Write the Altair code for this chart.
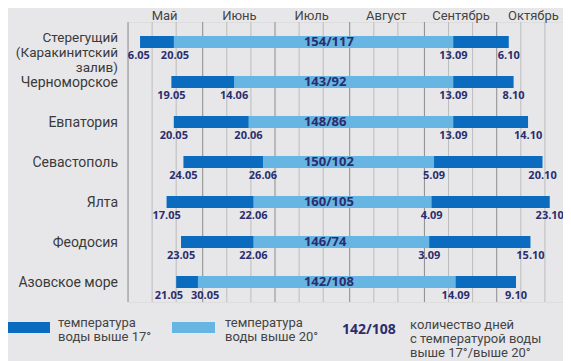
import altair as alt
import pandas as pd

# ---------------- data ----------------
stations = ["Стерегущий\n(Каракинитский\nзалив)", "Черноморское", "Евпатория",
            "Севастополь", "Ялта", "Феодосия", "Азовское море"]
start17 = ["6.05", "19.05", "20.05", "24.05", "17.05", "23.05", "21.05"]
start20 = ["20.05", "14.06", "20.06", "26.06", "22.06", "22.06", "30.05"]
end20 = ["13.09", "13.09", "13.09", "5.09", "4.09", "3.09", "14.09"]
end17 = ["6.10", "8.10", "14.10", "20.10", "23.10", "15.10", "9.10"]
days17 = [154, 143, 148, 150, 160, 146, 142]
days20 = [117, 92, 86, 102, 105, 74, 108]

month_names = ["Май", "Июнь", "Июль", "Август", "Сентябрь", "Октябрь"]
month_mid = ["16.05", "16.06", "16.07", "16.08", "16.09", "16.10"]
grid_months = ["1.05", "1.06", "1.07", "1.08", "1.09", "1.10"]
grid_decades = ["11.05", "21.05", "11.06", "21.06", "11.07", "21.07",
                "11.08", "21.08", "11.09", "21.09", "11.10", "21.10"]
count_anchor = "13.07"
x_domain = ["1.05", "28.10"]


def doy(s):
    d, m = s.split(".")
    return pd.Timestamp(2023, int(m), int(d)).dayofyear


DARK = "#0b6bbf"
LIGHT = "#66b5e3"
NAVY = "#2b2d6e"
TEXT = "#3a3a3a"
BG = "#e7e7e9"
FONT = "Open Sans"
SANS = "Roboto"

df = pd.DataFrame({
    "station": stations,
    "s17": [doy(s) for s in start17],
    "s20": [doy(s) for s in start20],
    "e20": [doy(s) for s in end20],
    "e17": [doy(s) for s in end17],
    "count": [f"{a}/{b}" for a, b in zip(days17, days20)],
})

# date labels (spread apart when two dates are too close)
rows = []
for i, st in enumerate(stations):
    a, b = df.loc[i, "s17"], df.loc[i, "s20"]
    gap = b - a
    shift = (15 - gap) / 2 if gap < 15 else 0
    rows.append({"station": st, "x": a - shift, "lbl": start17[i]})
    rows.append({"station": st, "x": b + shift, "lbl": start20[i]})
    rows.append({"station": st, "x": df.loc[i, "e20"], "lbl": end20[i]})
    rows.append({"station": st, "x": df.loc[i, "e17"], "lbl": end17[i]})
dates_df = pd.DataFrame(rows)

mid_vals = [doy(s) for s in month_mid]
label_expr = ("[" + ",".join(f"'{n}'" for n in month_names) + "][indexof(["
              + ",".join(str(v) for v in mid_vals) + "], datum.value)]")

xscale = alt.Scale(domain=[doy(x_domain[0]), doy(x_domain[1]) + 0.5], nice=False, zero=False)
yscale = alt.Scale(domain=stations, paddingInner=0, paddingOuter=0)
Y = alt.Y("station:N", scale=yscale, axis=None)
month_axis = alt.Axis(orient="top", values=mid_vals, labelExpr=label_expr,
                      ticks=False, domain=False, grid=False, title="",
                      labelFontSize=13, labelColor="#444", labelPadding=7,
                      labelBaseline="middle", labelFont=SANS)

grid_dec = alt.Chart(pd.DataFrame({"x": [doy(s) for s in grid_decades]})).mark_rule(
    color="#bcbcbc", strokeWidth=1).encode(
    x=alt.X("x:Q", scale=xscale, axis=month_axis))
grid_mon = alt.Chart(pd.DataFrame({"x": [doy(s) for s in grid_months]})).mark_rule(
    color="#8c8c8c", strokeWidth=1).encode(
    x=alt.X("x:Q", scale=xscale, axis=month_axis))

dark = alt.Chart(df).mark_bar(size=12, color=DARK).encode(
    x=alt.X("s17:Q", scale=xscale, axis=month_axis), x2="e17:Q", y=Y)
light = alt.Chart(df).mark_bar(size=12, color=LIGHT).encode(
    x=alt.X("s20:Q", scale=xscale, axis=month_axis), x2="e20:Q", y=Y)

counts = alt.Chart(df).mark_text(align="left", baseline="middle", fontSize=13,
                                 fontWeight="bold", color=NAVY, font=FONT).encode(
    x=alt.datum(doy(count_anchor)), y=Y, text="count:N")

dates = alt.Chart(dates_df).mark_text(align="center", baseline="middle", fontSize=11,
                                      fontWeight="bold", color=NAVY, dy=14, font=FONT).encode(
    x=alt.X("x:Q", scale=xscale, axis=month_axis), y=Y, text="lbl:N")

multi = "indexof(datum.station, '\\n') >= 0"
names_single = alt.Chart(df).transform_filter("!(" + multi + ")").mark_text(
    align="right", baseline="middle", fontSize=14, dy=1, color=TEXT, font=SANS).encode(
    x=alt.value(-10), y=Y, text="station:N")
names_multi = alt.Chart(df).transform_filter(multi).mark_text(
    align="right", baseline="top", fontSize=13.5, dy=-11, lineBreak="\n", lineHeight=15,
    color=TEXT, font=SANS).encode(
    x=alt.value(-10), y=Y, text="station:N")

# legend
one = pd.DataFrame({"a": [0]})
sw1 = alt.Chart(one).mark_rect(color=DARK).encode(
    x=alt.value(-120), x2=alt.value(-78), y=alt.value(300), y2=alt.value(311))
sw2 = alt.Chart(one).mark_rect(color=LIGHT).encode(
    x=alt.value(44), x2=alt.value(87), y=alt.value(300), y2=alt.value(311))
leg_style = dict(align="left", baseline="top", fontSize=13, lineBreak="\n",
                 lineHeight=14, color="#444", font=SANS)
t1 = alt.Chart(one).mark_text(**leg_style).encode(
    x=alt.value(-70), y=alt.value(295), text=alt.value("температура\nводы выше 17°"))
t2 = alt.Chart(one).mark_text(**leg_style).encode(
    x=alt.value(97), y=alt.value(295), text=alt.value("температура\nводы выше 20°"))
t3 = alt.Chart(one).mark_text(align="left", baseline="middle", fontSize=14,
                              fontWeight="bold", color=NAVY, font=FONT).encode(
    x=alt.value(214), y=alt.value(308), text=alt.value("142/108"))
t4 = alt.Chart(one).mark_text(**leg_style).encode(
    x=alt.value(282), y=alt.value(297),
    text=alt.value("количество дней\nс температурой воды\nвыше 17°/выше 20°"))

chart = alt.layer(grid_dec, grid_mon, dark, light, counts, dates, names_single, names_multi,
                  sw1, sw2, t1, t2, t3, t4).properties(
    width=435, height=280,
    padding={"left": 120, "top": 14, "right": 0, "bottom": 59},
    autosize=alt.AutoSizeParams(type="none"),
    background=BG,
).configure_view(strokeWidth=0).configure(font=FONT)

chart.save("out.html", embed_options={"renderer": "svg", "actions": False})
